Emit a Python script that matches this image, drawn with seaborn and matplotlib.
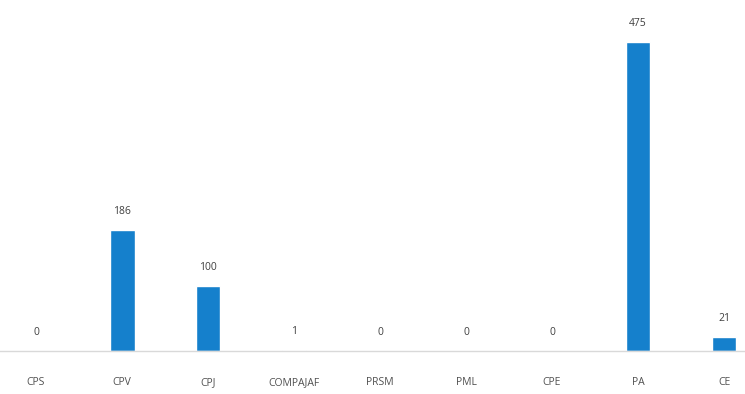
import numpy as np
import pandas as pd
import matplotlib
matplotlib.use("Agg")
import matplotlib.pyplot as plt
import seaborn as sns

categories = ["CPS", "CPV", "CPJ", "COMPAJAF", "PRSM", "PML", "CPE", "PA", "CE"]
values = [0, 186, 100, 1, 0, 0, 0, 475, 21]

df = pd.DataFrame({"cat": categories, "val": values})

sns.set_style("white")
plt.rcParams["font.family"] = ["Open Sans", "DejaVu Sans"]

fig = plt.figure(figsize=(7.45, 3.94), dpi=100)
ax = fig.add_axes([0, 43 / 394, 1, 351 / 394])

sns.barplot(data=df, x="cat", y="val", color="#1580cc", width=0.29,
            saturation=1, ax=ax)

ax.set_xlim(-0.419, 8.244)
ax.set_ylim(0, 540)
# value labels above each bar
for i, v in enumerate(values):
    ax.text(i, v + 20, str(v), ha="center", va="bottom",
            fontsize=7.5, color="#404040")

ax.set_xlabel("")
ax.set_ylabel("")
ax.set_yticks([])
ax.tick_params(axis="x", length=0, pad=19, labelsize=7.5, labelcolor="#505050")
for s in ["top", "left", "right"]:
    ax.spines[s].set_visible(False)
ax.spines["bottom"].set_color("#d9d9d9")
ax.spines["bottom"].set_linewidth(1)

fig.savefig("out.png", dpi=100)
